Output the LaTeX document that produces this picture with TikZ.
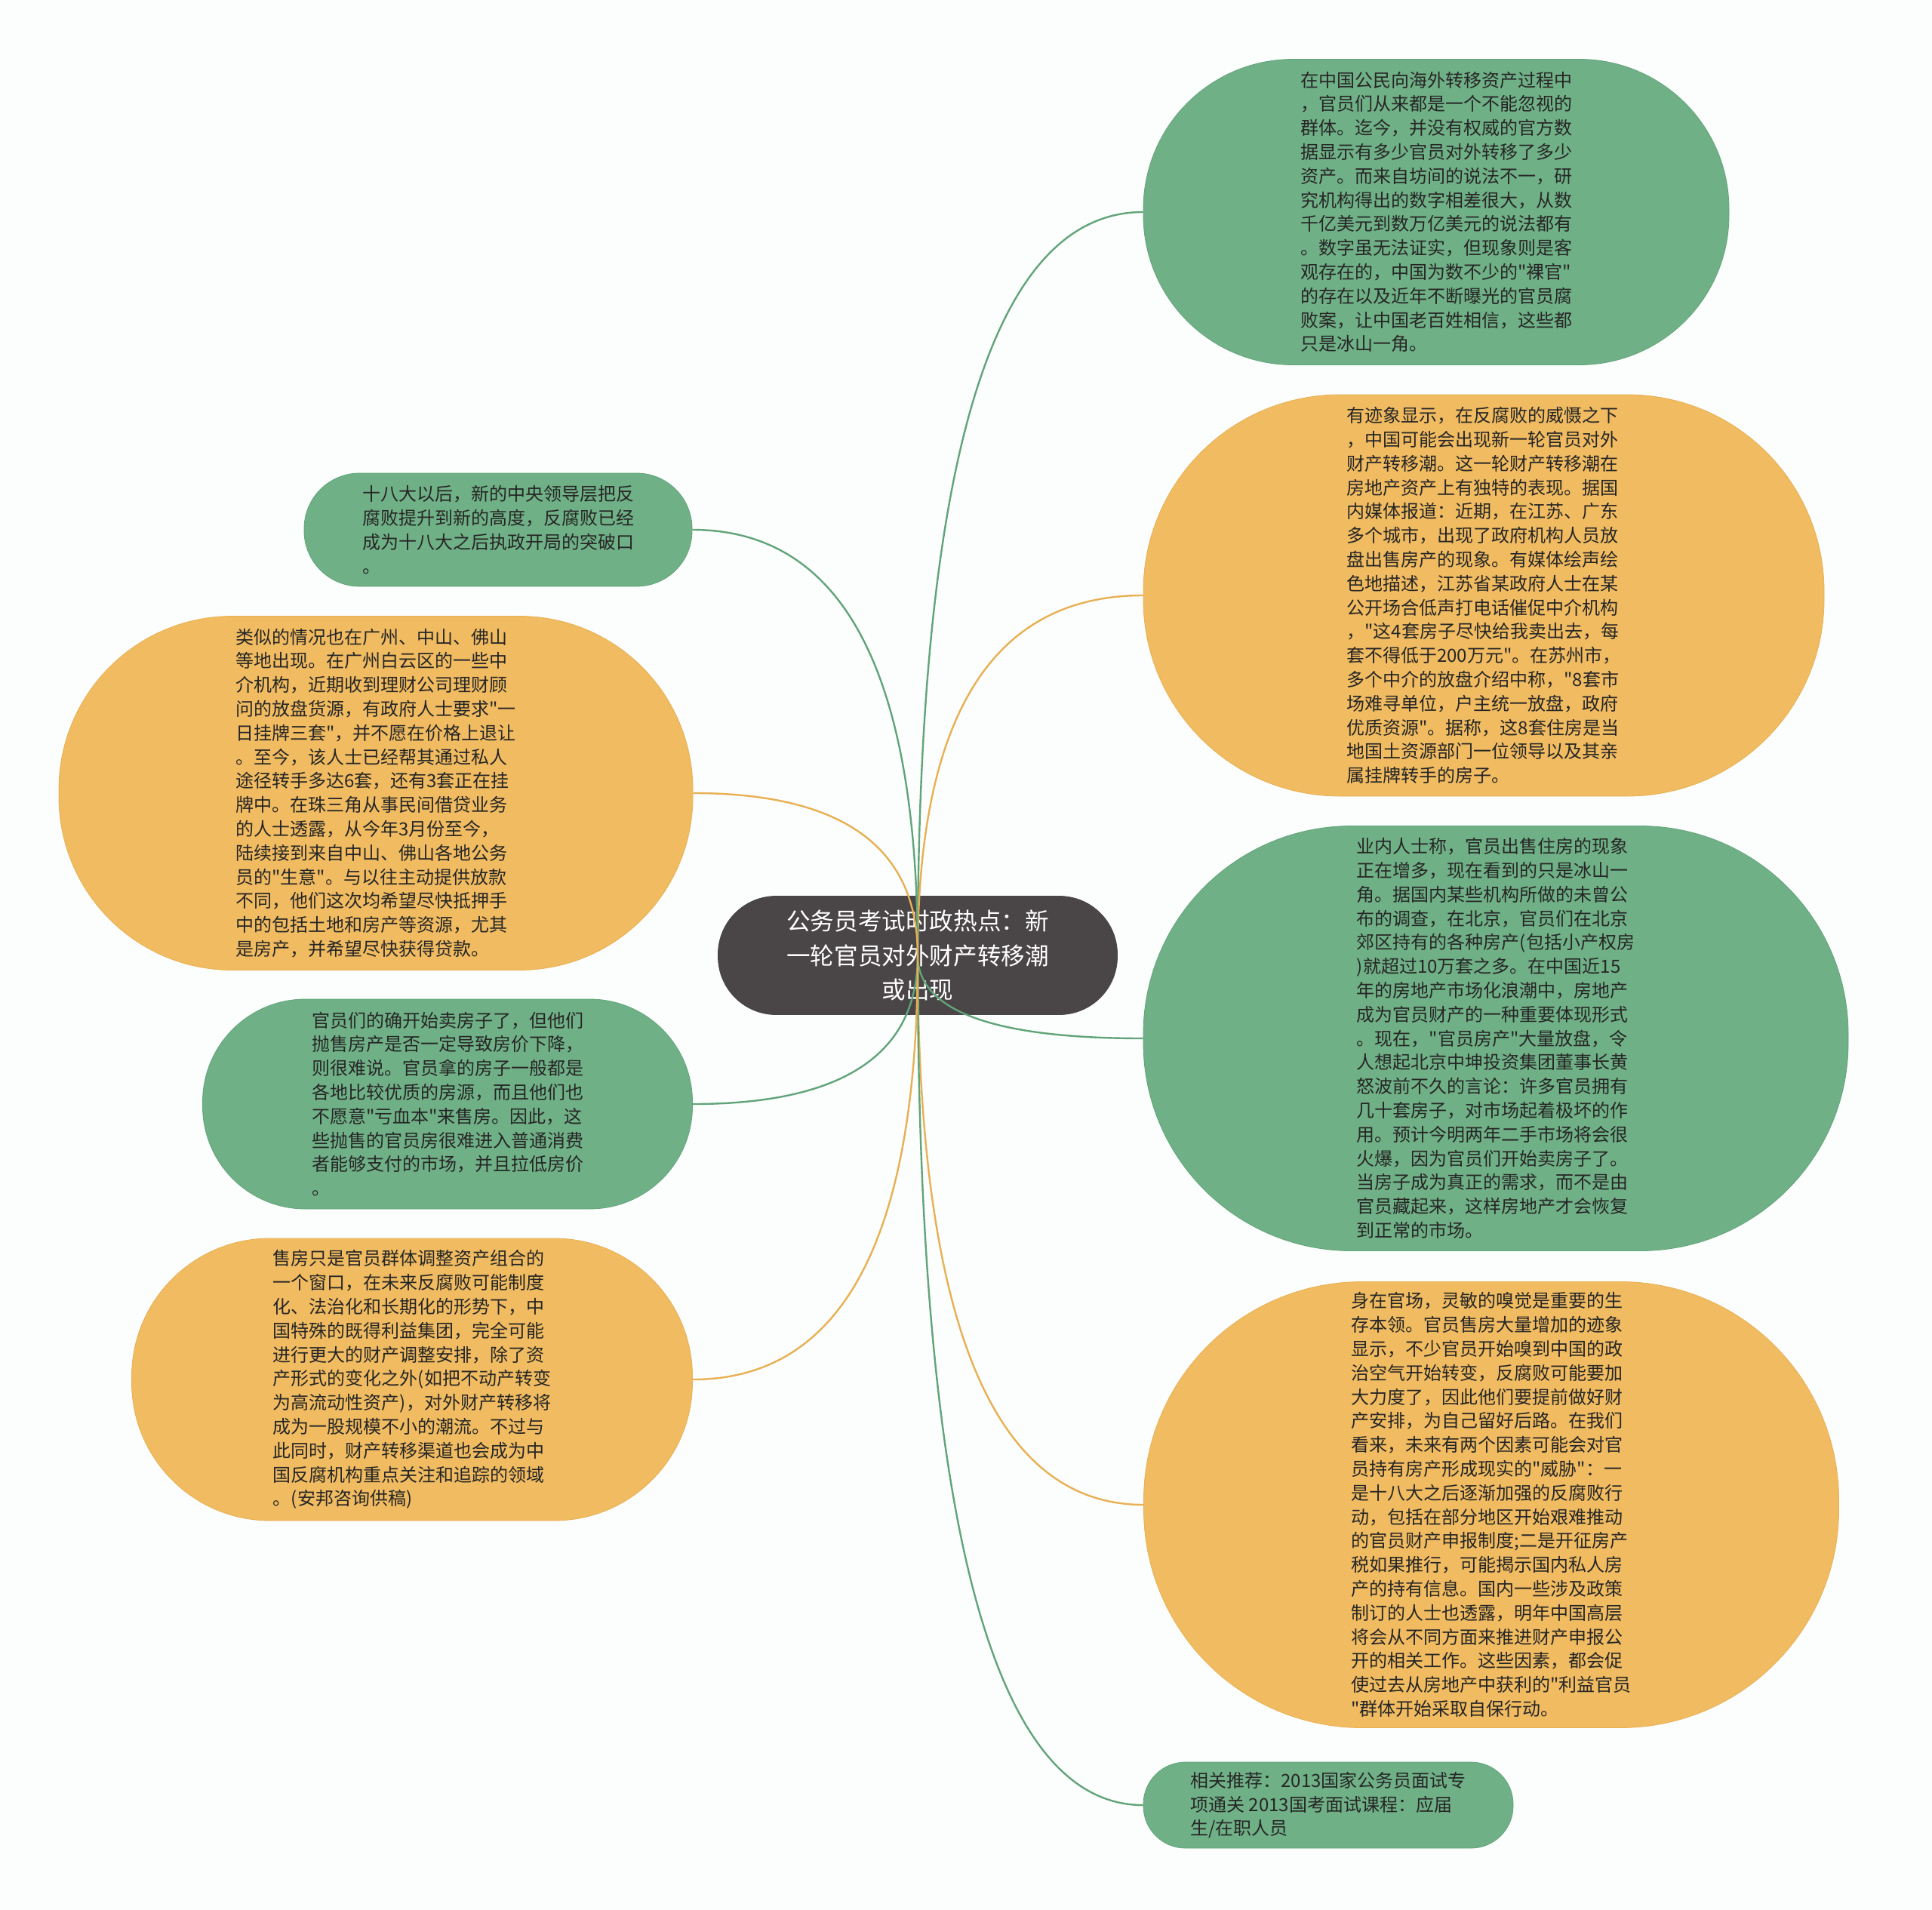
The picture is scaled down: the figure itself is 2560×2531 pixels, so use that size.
\documentclass[tikz,border=0pt]{standalone}
\usepackage{fontspec}
\setmainfont{Noto Sans CJK SC}[Ligatures=TeXOff]
\usetikzlibrary{calc}

\definecolor{leaf}{RGB}{112,176,134}
\definecolor{leafline}{RGB}{98,164,122}
\definecolor{sun}{RGB}{240,187,97}
\definecolor{sunline}{RGB}{232,176,84}
\definecolor{hubgray}{RGB}{74,69,70}
\definecolor{paper}{RGB}{252,254,253}
\definecolor{ink}{RGB}{38,38,38}

\tikzset{
  bubble/.style 2 args={rectangle, minimum width=#1, minimum height=#2,
    rounded corners=0.49*#2, inner sep=2pt, align=left, text=ink,
    font=\fontsize{12pt}{15.9pt}\selectfont},
  leafbox/.style 2 args={bubble={#1}{#2}, fill=leaf, draw=leafline},
  sunbox/.style 2 args={bubble={#1}{#2}, fill=sun, draw=sunline},
  hubbox/.style={bubble={264.5pt}{78.5pt}, fill=hubgray, draw=hubgray,
    align=center, text=white, font=\fontsize{15.8pt}{22.8pt}\selectfont},
  twig/.style={to path={.. controls ($(\tikztostart)!2/3!(\tikztostart |- \tikztotarget)$)
    and ($(\tikztotarget)!2/3!(\tikztostart |- \tikztotarget)$) .. (\tikztotarget)}}
}

\begin{document}
\begin{tikzpicture}[x=0.5pt,y=-0.5pt]
\useasboundingbox[fill=paper] (0,0) rectangle (2560,2531);

% right side
\node[leafbox={388pt}{202.5pt}] (abroad) at (1903,281) {在中国公民向海外转移资产过程中\\，官员们从来都是一个不能忽视的\\群体。迄今，并没有权威的官方数\\据显示有多少官员对外转移了多少\\资产。而来自坊间的说法不一，研\\究机构得出的数字相差很大，从数\\千亿美元到数万亿美元的说法都有\\。数字虽无法证实，但现象则是客\\观存在的，中国为数不少的"裸官"\\的存在以及近年不断曝光的官员腐\\败案，让中国老百姓相信，这些都\\只是冰山一角。};
\node[sunbox={451pt}{266pt}] (wave) at (1966,789) {有迹象显示，在反腐败的威慑之下\\，中国可能会出现新一轮官员对外\\财产转移潮。这一轮财产转移潮在\\房地产资产上有独特的表现。据国\\内媒体报道：近期，在江苏、广东\\多个城市，出现了政府机构人员放\\盘出售房产的现象。有媒体绘声绘\\色地描述，江苏省某政府人士在某\\公开场合低声打电话催促中介机构\\，"这4套房子尽快给我卖出去，每\\套不得低于200万元"。在苏州市，\\多个中介的放盘介绍中称，"8套市\\场难寻单位，户主统一放盘，政府\\优质资源"。据称，这8套住房是当\\地国土资源部门一位领导以及其亲\\属挂牌转手的房子。};
\node[leafbox={467pt}{281.5pt}] (beijing) at (1982,1376) {业内人士称，官员出售住房的现象\\正在增多，现在看到的只是冰山一\\角。据国内某些机构所做的未曾公\\布的调查，在北京，官员们在北京\\郊区持有的各种房产(包括小产权房\\)就超过10万套之多。在中国近15\\年的房地产市场化浪潮中，房地产\\成为官员财产的一种重要体现形式\\。现在，"官员房产"大量放盘，令\\人想起北京中坤投资集团董事长黄\\怒波前不久的言论：许多官员拥有\\几十套房子，对市场起着极坏的作\\用。预计今明两年二手市场将会很\\火爆，因为官员们开始卖房子了。\\当房子成为真正的需求，而不是由\\官员藏起来，这样房地产才会恢复\\到正常的市场。};
\node[sunbox={460.5pt}{295.5pt}] (smell) at (1976,1994) {身在官场，灵敏的嗅觉是重要的生\\存本领。官员售房大量增加的迹象\\显示，不少官员开始嗅到中国的政\\治空气开始转变，反腐败可能要加\\大力度了，因此他们要提前做好财\\产安排，为自己留好后路。在我们\\看来，未来有两个因素可能会对官\\员持有房产形成现实的"威胁"：一\\是十八大之后逐渐加强的反腐败行\\动，包括在部分地区开始艰难推动\\的官员财产申报制度;二是开征房产\\税如果推行，可能揭示国内私人房\\产的持有信息。国内一些涉及政策\\制订的人士也透露，明年中国高层\\将会从不同方面来推进财产申报公\\开的相关工作。这些因素，都会促\\使过去从房地产中获利的"利益官员\\"群体开始采取自保行动。};
\node[leafbox={245pt}{57pt}] (recommend) at (1760,2392) {相关推荐：2013国家公务员面试专\\项通关 2013国考面试课程：应届\\生/在职人员};

% left side
\node[leafbox={257pt}{75pt}] (eighteen) at (660,702) {十八大以后，新的中央领导层把反\\腐败提升到新的高度，反腐败已经\\成为十八大之后执政开局的突破口\\。};
\node[sunbox={420pt}{234.5pt}] (guangzhou) at (498,1051) {类似的情况也在广州、中山、佛山\\等地出现。在广州白云区的一些中\\介机构，近期收到理财公司理财顾\\问的放盘货源，有政府人士要求"一\\日挂牌三套"，并不愿在价格上退让\\。至今，该人士已经帮其通过私人\\途径转手多达6套，还有3套正在挂\\牌中。在珠三角从事民间借贷业务\\的人士透露，从今年3月份至今，\\陆续接到来自中山、佛山各地公务\\员的"生意"。与以往主动提供放款\\不同，他们这次均希望尽快抵押手\\中的包括土地和房产等资源，尤其\\是房产，并希望尽快获得贷款。};
\node[leafbox={324.5pt}{139pt}] (price) at (593,1463) {官员们的确开始卖房子了，但他们\\抛售房产是否一定导致房价下降，\\则很难说。官员拿的房子一般都是\\各地比较优质的房源，而且他们也\\不愿意"亏血本"来售房。因此，这\\些抛售的官员房很难进入普通消费\\者能够支付的市场，并且拉低房价\\。};
\node[sunbox={371.5pt}{187pt}] (window) at (546,1828) {售房只是官员群体调整资产组合的\\一个窗口，在未来反腐败可能制度\\化、法治化和长期化的形势下，中\\国特殊的既得利益集团，完全可能\\进行更大的财产调整安排，除了资\\产形式的变化之外(如把不动产转变\\为高流动性资产)，对外财产转移将\\成为一股规模不小的潮流。不过与\\此同时，财产转移渠道也会成为中\\国反腐机构重点关注和追踪的领域\\。(安邦咨询供稿)};

% centre
\node[hubbox] (hub) at (1216,1266) {公务员考试时政热点：新\\一轮官员对外财产转移潮\\或出现};

\foreach \nd/\sd/\col in {abroad/west/leafline, wave/west/sunline, beijing/west/leafline,
    smell/west/sunline, recommend/west/leafline, eighteen/east/leafline,
    guangzhou/east/sunline, price/east/leafline, window/east/sunline}
  \draw[\col, line width=1.2pt] (hub.center) to[twig] (\nd.\sd);
\end{tikzpicture}
\end{document}
